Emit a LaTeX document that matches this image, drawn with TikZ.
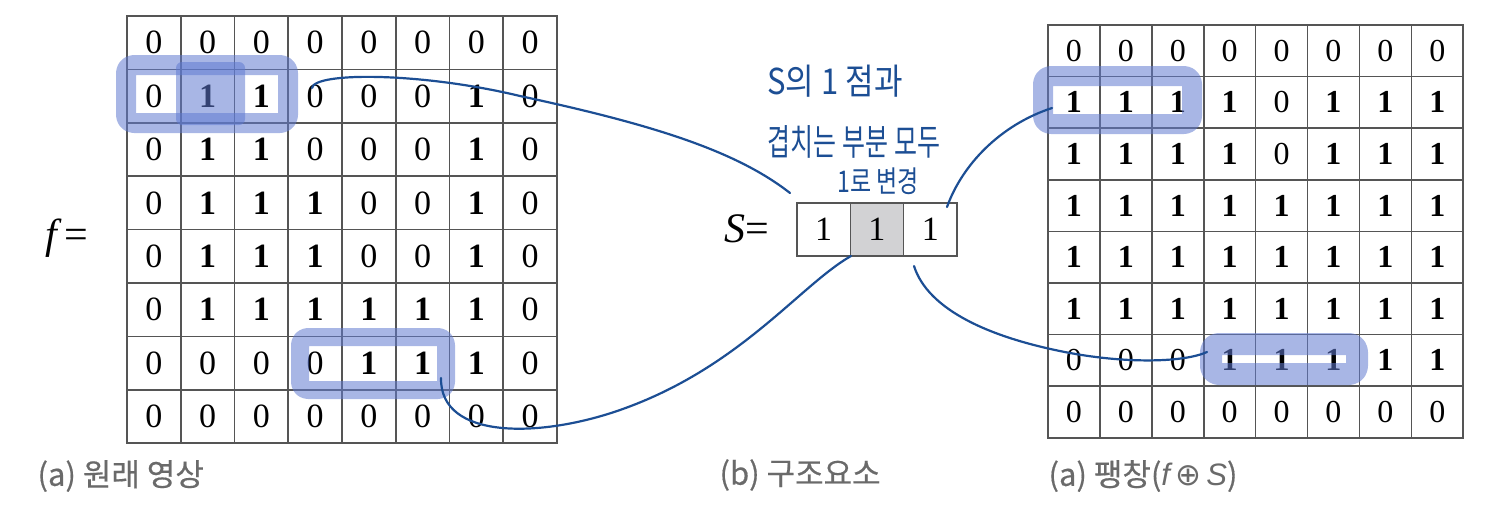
\documentclass[tikz,border=0pt]{standalone}
\usepackage{fontspec}
\setmainfont{Liberation Serif}
\newfontfamily\krfont{Noto Sans CJK KR}
\newfontfamily\krcap[FakeBold=0.5]{Noto Sans CJK KR}
\newfontfamily\lsans{Liberation Sans}
\newfontfamily\dvsans{DejaVu Sans}
\definecolor{gridline}{HTML}{555555}
\definecolor{penblue}{HTML}{1C4E94}
\definecolor{hlblue}{RGB}{96,122,208}
\definecolor{capgray}{HTML}{6A6A6A}
\definecolor{sgray}{HTML}{D2D2D4}
\tikzset{
  cell/.style={draw=gridline,line width=1.6pt,minimum width=53.75pt,minimum height=53.4pt,
    inner sep=0pt,font=\fontsize{34}{34}\selectfont},
  dcell/.style={cell,minimum width=51.9pt,minimum height=51.6pt,font=\fontsize{32}{32}\selectfont},
  scell/.style={cell,minimum width=53.3pt,minimum height=53pt},
  marker/.style={draw=hlblue,line width=20pt,opacity=0.55,rounded corners=8pt,line join=round},
  pen/.style={draw=penblue,line width=2.2pt,line cap=round},
  handtext/.style={text=penblue,font=\krfont\fontsize{25}{25}\selectfont},
  captext/.style={text=capgray,anchor=west,font=\krcap\fontsize{31}{31}\selectfont}
}
\begin{document}
\begin{tikzpicture}[x=1pt,y=-1pt]
\useasboundingbox (0,0) rectangle (1506,512);
% original image f
\foreach \row [count=\r from 0] in {{0,0,0,0,0,0,0,0},{0,1,1,0,0,0,1,0},{0,1,1,0,0,0,1,0},
  {0,1,1,1,0,0,1,0},{0,1,1,1,0,0,1,0},{0,1,1,1,1,1,1,0},{0,0,0,0,1,1,1,0},{0,0,0,0,0,0,0,0}}
  \foreach \v [count=\c from 0] in \row
    \node[cell] (f-\r-\c) at ({127+53.75*(\c+0.5)},{16+53.4*(\r+0.5)})
      {\ifnum\v=1 \textbf{1}\else 0\fi};
\node[font=\fontsize{42}{42}\selectfont] (feq) at (67,238) {\textit{f}\hspace{2pt}=};
% structuring element S
\node[scell] (s-0) at (823.65,229.5) {1};
\node[scell,fill=sgray] (s-1) at (876.95,229.5) {1};
\node[scell] (s-2) at (930.25,229.5) {1};
\node[font=\fontsize{42}{42}\selectfont] (seq) at (747,229) {\textit{S}=};
% dilation result
\foreach \row [count=\r from 0] in {{0,0,0,0,0,0,0,0},{1,1,1,1,0,1,1,1},{1,1,1,1,0,1,1,1},
  {1,1,1,1,1,1,1,1},{1,1,1,1,1,1,1,1},{1,1,1,1,1,1,1,1},{0,0,0,1,1,1,1,1},{0,0,0,0,0,0,0,0}}
  \foreach \v [count=\c from 0] in \row
    \node[dcell] (d-\r-\c) at ({1048+51.9*(\c+0.5)},{25+51.6*(\r+0.5)})
      {\ifnum\v=1 \textbf{1}\else 0\fi};
% marker highlights
\draw[marker] (126,65) rectangle (288,123);
\fill[hlblue,opacity=0.55,rounded corners=6pt] (176,62) rectangle (245,125);
\draw[marker,line width=18pt] (300,337) rectangle (446,390);
\draw[marker] (1043,76) rectangle (1192,124);
\draw[marker,line width=22pt] (1211,344) rectangle (1357,374);
% pen strokes
\coordinate (fa) at (312,88);
\coordinate (sa) at (790,193);
\coordinate (fb) at (441,378);
\coordinate (sb) at (851,256);
\coordinate (sc) at (947,207);
\coordinate (dc) at (1052,108);
\coordinate (sd) at (914,266);
\coordinate (dd) at (1207,352);
\draw[pen] (fa) .. controls (314,72) and (420,72) .. (520,96) .. controls (650,124) and (735,150) .. (sa);
\draw[pen] (fb) .. controls (440,440) and (540,438) .. (620,410) .. controls (740,368) and (800,285) .. (sb);
\draw[pen] (sc) .. controls (962,165) and (1000,125) .. (dc);
\draw[pen] (sd) .. controls (928,310) and (990,338) .. (1070,353) .. controls (1130,364) and (1185,362) .. (dd);
\node[handtext,font=\krfont\fontsize{31}{31}\selectfont] (note1) at (835,81) {\scalebox{1}[1.15]{S의 1 점과}};
\node[handtext] (note2) at (854,142) {\scalebox{1}[1.45]{겹치는 부분 모두}};
\node[handtext,font=\krfont\fontsize{23}{23}\selectfont] (note3) at (878,181) {\scalebox{1}[1.3]{1로 변경}};
% captions
\node[captext] (capf) at (34,476) {(a) 원래 영상};
\node[captext] (caps) at (716,475) {(b) 구조요소};
\node[captext] (capd) at (1045,476) {(a) 팽창({\lsans\itshape f}\,{\dvsans ⊕}\,{\lsans\itshape S})};
\end{tikzpicture}
\end{document}
